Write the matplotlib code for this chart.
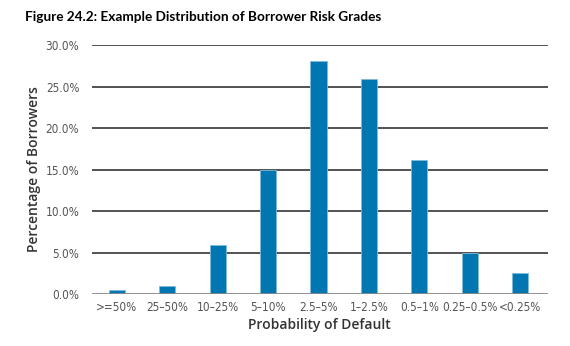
import matplotlib
matplotlib.use("Agg")
import matplotlib.pyplot as plt
import numpy as np

# values (percent of borrowers)
categories = [">=50%", "25\u201350%", "10\u201325%", "5\u201310%", "2.5\u20135%",
              "1\u20132.5%", "0.5\u20131%", "0.25\u20130.5%", "<0.25%"]
pct = [0.5, 1.0, 5.9, 15.0, 28.1, 25.9, 16.1, 5.0, 2.6]
yticks = [0, 5, 10, 15, 20, 25, 30]

fig = plt.figure(figsize=(5.7, 3.46), dpi=100)
ax = fig.add_axes([0.161, 0.150, 0.800, 0.720])

x = np.arange(len(categories))
ax.bar(x, pct, width=0.32, color="#0077b0", edgecolor="#7fbadb", linewidth=0.6, zorder=3)

ax.set_xlim(-0.5, 8.55)
ax.set_ylim(0, 30)
ax.set_yticks(yticks)
ax.set_yticklabels([f"{v:.1f}%" for v in yticks])
ax.set_xticks(x)
ax.set_xticklabels(categories)

for v in yticks:
    ax.axhline(v, color="#444444" if v else "#888888", linewidth=1.3 if v else 2.0, zorder=1 if v else 4)

for s in ax.spines.values():
    s.set_visible(False)
ax.tick_params(axis="both", length=0, labelsize=8.5, labelcolor="#555555")
ax.tick_params(axis="y", pad=9)
ax.tick_params(axis="x", pad=5)
for lab in ax.get_xticklabels() + ax.get_yticklabels():
    lab.set_family(["DejaVu Sans"])
    lab.set_stretch("condensed")

ax.set_xlabel("Probability of Default", fontsize=10, color="#333333", family="Open Sans",
              fontweight="semibold", labelpad=3)
ax.set_ylabel("Percentage of Borrowers", fontsize=10, color="#333333", family="Open Sans",
              fontweight="semibold", labelpad=3)

fig.text(0.044, 0.95, "Figure 24.2: Example Distribution of Borrower Risk Grades",
         fontsize=9.8, fontweight="bold", family="Lato", color="black", va="center")

fig.savefig("out.png", dpi=100, facecolor="white")
